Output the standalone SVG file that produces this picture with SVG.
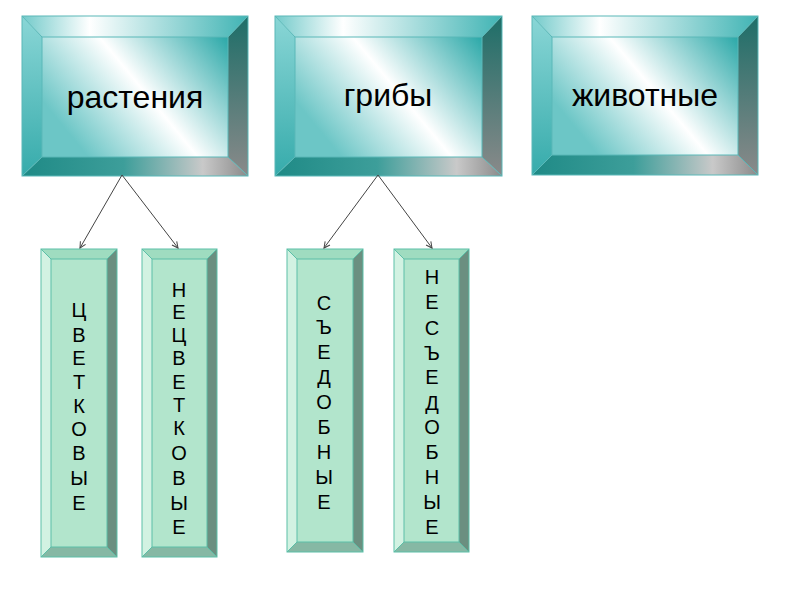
<svg xmlns="http://www.w3.org/2000/svg" width="800" height="600" viewBox="0 0 800 600">
<defs>
<linearGradient id="face" x1="0" y1="0.53" x2="1" y2="0">
<stop offset="0" stop-color="#6cc6c6"/><stop offset="0.46" stop-color="#ffffff"/><stop offset="1" stop-color="#2aa8a8"/>
</linearGradient>
<linearGradient id="topb" x1="0" y1="0" x2="1" y2="0">
<stop offset="0" stop-color="#72caca"/><stop offset="0.3" stop-color="#ffffff"/><stop offset="1" stop-color="#40b4b4"/>
</linearGradient>
<linearGradient id="leftb" x1="0" y1="0" x2="0" y2="1">
<stop offset="0" stop-color="#8ad6d6"/><stop offset="1" stop-color="#36abab"/>
</linearGradient>
<linearGradient id="rightb" x1="0" y1="0" x2="0" y2="1">
<stop offset="0" stop-color="#1d6e68"/><stop offset="1" stop-color="#8a8a8a"/>
</linearGradient>
<linearGradient id="botb" x1="0" y1="0" x2="1" y2="0">
<stop offset="0" stop-color="#1f8a86"/><stop offset="0.45" stop-color="#3d9e9a"/><stop offset="0.8" stop-color="#c9c9c9"/><stop offset="1" stop-color="#8a8a8a"/>
</linearGradient>
<marker id="arr" markerWidth="8" markerHeight="8" refX="7" refY="4" orient="auto" markerUnits="userSpaceOnUse">
<path d="M1,1 L7,4 L1,7" fill="none" stroke="#444" stroke-width="1"/>
</marker>
</defs>
<style>
.t{font-family:"Liberation Sans",Arial,sans-serif;font-size:32px;fill:#000;text-anchor:middle}
.v{font-family:"Liberation Sans",Arial,sans-serif;font-size:20px;fill:#000;text-anchor:middle}
.ol{fill:none;stroke:#5ab8b8;stroke-width:1}
.vol{fill:none;stroke:#5cbfa8;stroke-width:1}
.vf{fill:#b2e5cc}.vl{fill:#d2f2e2}.vt{fill:#9fdcc0}.vr{fill:#6b8f80}.vb{fill:#86b8a4}
.edge{fill:none;stroke:#444;stroke-width:1;marker-end:url(#arr)}
</style>
<rect width="800" height="600" fill="#fff"/>

<g id="rastenia">
<polygon points="22,16 248,16 228,37 42,37" fill="url(#topb)"/>
<polygon points="22,16 42,37 42,157 22,176" fill="url(#leftb)"/>
<polygon points="248,16 248,176 228,157 228,37" fill="url(#rightb)"/>
<polygon points="22,176 42,157 228,157 248,176" fill="url(#botb)"/>
<rect x="42" y="37" width="186" height="120" fill="url(#face)"/>
<rect x="22" y="16" width="226" height="160" class="ol"/>
<path d="M22,16 L42,37 H228 L248,16 M42,37 V157 H228 V37 M22,176 L42,157 M248,176 L228,157" class="ol"/>
<text x="135" y="108" class="t">растения</text>
</g>

<g id="griby">
<polygon points="275,16 502,16 482,37 295,37" fill="url(#topb)"/>
<polygon points="275,16 295,37 295,157 275,176" fill="url(#leftb)"/>
<polygon points="502,16 502,176 482,157 482,37" fill="url(#rightb)"/>
<polygon points="275,176 295,157 482,157 502,176" fill="url(#botb)"/>
<rect x="295" y="37" width="187" height="120" fill="url(#face)"/>
<rect x="275" y="16" width="227" height="160" class="ol"/>
<path d="M275,16 L295,37 H482 L502,16 M295,37 V157 H482 V37 M275,176 L295,157 M502,176 L482,157" class="ol"/>
<text x="388" y="106" class="t">грибы</text>
</g>

<g id="zhivotnye">
<polygon points="532,16 758,16 738,37 552,37" fill="url(#topb)"/>
<polygon points="532,16 552,37 552,155 532,175" fill="url(#leftb)"/>
<polygon points="758,16 758,175 738,155 738,37" fill="url(#rightb)"/>
<polygon points="532,175 552,155 738,155 758,175" fill="url(#botb)"/>
<rect x="552" y="37" width="186" height="118" fill="url(#face)"/>
<rect x="532" y="16" width="226" height="159" class="ol"/>
<path d="M532,16 L552,37 H738 L758,16 M552,37 V155 H738 V37 M532,175 L552,155 M758,175 L738,155" class="ol"/>
<text x="645" y="106" class="t">животные</text>
</g>

<g id="tsvetkovye">
<polygon points="41,249 117,249 107,259 51,259" class="vt"/>
<polygon points="41,249 51,259 51,547 41,557" class="vl"/>
<polygon points="117,249 117,557 107,547 107,259" class="vr"/>
<polygon points="41,557 51,547 107,547 117,557" class="vb"/>
<rect x="51" y="259" width="56" height="288" class="vf"/>
<rect x="41" y="249" width="76" height="308" class="vol"/>
<path d="M41,249 L51,259 H107 L117,249 M51,259 V547 H107 V259 M41,557 L51,547 M117,557 L107,547" class="vol"/>
<text class="v" x="79"><tspan x="79" y="317">Ц</tspan><tspan x="79" y="342">В</tspan><tspan x="79" y="365">Е</tspan><tspan x="79" y="389">Т</tspan><tspan x="79" y="413">К</tspan><tspan x="79" y="436">О</tspan><tspan x="79" y="460">В</tspan><tspan x="79" y="485">Ы</tspan><tspan x="79" y="510">Е</tspan></text>
</g>

<g id="netsvetkovye">
<polygon points="142,249 217,249 207,259 152,259" class="vt"/>
<polygon points="142,249 152,259 152,547 142,557" class="vl"/>
<polygon points="217,249 217,557 207,547 207,259" class="vr"/>
<polygon points="142,557 152,547 207,547 217,557" class="vb"/>
<rect x="152" y="259" width="55" height="288" class="vf"/>
<rect x="142" y="249" width="75" height="308" class="vol"/>
<path d="M142,249 L152,259 H207 L217,249 M152,259 V547 H207 V259 M142,557 L152,547 M217,557 L207,547" class="vol"/>
<text class="v" x="179"><tspan x="179" y="297">Н</tspan><tspan x="179" y="319">Е</tspan><tspan x="179" y="342">Ц</tspan><tspan x="179" y="365">В</tspan><tspan x="179" y="389">Е</tspan><tspan x="179" y="412">Т</tspan><tspan x="179" y="435">К</tspan><tspan x="179" y="460">О</tspan><tspan x="179" y="485">В</tspan><tspan x="179" y="510">Ы</tspan><tspan x="179" y="534">Е</tspan></text>
</g>

<g id="sedobnye">
<polygon points="287,249 363,249 353,259 297,259" class="vt"/>
<polygon points="287,249 297,259 297,542 287,552" class="vl"/>
<polygon points="363,249 363,552 353,542 353,259" class="vr"/>
<polygon points="287,552 297,542 353,542 363,552" class="vb"/>
<rect x="297" y="259" width="56" height="283" class="vf"/>
<rect x="287" y="249" width="76" height="303" class="vol"/>
<path d="M287,249 L297,259 H353 L363,249 M297,259 V542 H353 V259 M287,552 L297,542 M363,552 L353,542" class="vol"/>
<text class="v" x="324"><tspan x="324" y="310">С</tspan><tspan x="324" y="334">Ъ</tspan><tspan x="324" y="359">Е</tspan><tspan x="324" y="384">Д</tspan><tspan x="324" y="409">О</tspan><tspan x="324" y="434">Б</tspan><tspan x="324" y="459">Н</tspan><tspan x="324" y="484">Ы</tspan><tspan x="324" y="509">Е</tspan></text>
</g>

<g id="nesedobnye">
<polygon points="394,249 469,249 459,259 404,259" class="vt"/>
<polygon points="394,249 404,259 404,542 394,552" class="vl"/>
<polygon points="469,249 469,552 459,542 459,259" class="vr"/>
<polygon points="394,552 404,542 459,542 469,552" class="vb"/>
<rect x="404" y="259" width="55" height="283" class="vf"/>
<rect x="394" y="249" width="75" height="303" class="vol"/>
<path d="M394,249 L404,259 H459 L469,249 M404,259 V542 H459 V259 M394,552 L404,542 M469,552 L459,542" class="vol"/>
<text class="v" x="432"><tspan x="432" y="284">Н</tspan><tspan x="432" y="309">Е</tspan><tspan x="432" y="335">С</tspan><tspan x="432" y="360">Ъ</tspan><tspan x="432" y="384">Е</tspan><tspan x="432" y="410">Д</tspan><tspan x="432" y="434">О</tspan><tspan x="432" y="459">Б</tspan><tspan x="432" y="484">Н</tspan><tspan x="432" y="509">Ы</tspan><tspan x="432" y="534">Е</tspan></text>
</g>

<g id="connectors">
<line x1="122" y1="175" x2="80" y2="248" class="edge"/>
<line x1="122" y1="175" x2="178" y2="248" class="edge"/>
<line x1="378" y1="175" x2="324" y2="248" class="edge"/>
<line x1="378" y1="175" x2="432" y2="248" class="edge"/>
</g>
</svg>
